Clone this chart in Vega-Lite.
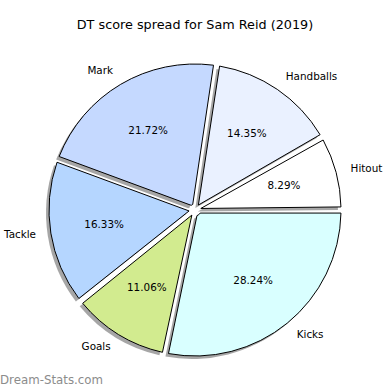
{
  "$schema": "https://vega.github.io/schema/vega-lite/v6.json",
  "width": 390,
  "height": 360,
  "autosize": "none",
  "padding": {"top": 30, "left": 0, "right": 0, "bottom": 0},
  "background": "white",
  "title": {"text": "DT score spread for Sam Reid (2019)", "font": "DejaVu Sans", "fontSize": 12.8, "fontWeight": "normal", "color": "#000000", "offset": -2, "anchor": "middle"},
  "config": {"view": {"stroke": null}},
  "layer": [
    {
      "data": {"values": [
        {"i": 1, "cat": "Hitout", "pct": 8.29},
        {"i": 2, "cat": "Handballs", "pct": 14.35},
        {"i": 3, "cat": "Mark", "pct": 21.72},
        {"i": 4, "cat": "Tackle", "pct": 16.33},
        {"i": 5, "cat": "Goals", "pct": 11.06},
        {"i": 6, "cat": "Kicks", "pct": 28.24}
      ]},
      "transform": [{"calculate": "format(datum.pct, '.2f') + '%'", "as": "lab"}],
      "encoding": {
        "theta": {"field": "pct", "type": "quantitative", "stack": true, "scale": {"range": [1.5707963, -4.712389]}},
        "order": {"field": "i", "type": "quantitative"}
      },
      "layer": [
        {"mark": {"type": "arc", "outerRadius": 146, "innerRadius": 6, "padAngle": 0.042, "xOffset": -3, "yOffset": 3, "fill": "#4d4d4d", "fillOpacity": 0.5}},
        {"mark": {"type": "arc", "outerRadius": 146, "innerRadius": 6, "padAngle": 0.042, "stroke": "#000000", "strokeWidth": 1},
         "encoding": {"fill": {"field": "cat", "type": "nominal", "legend": null,
           "scale": {"domain": ["Hitout", "Handballs", "Mark", "Tackle", "Goals", "Kicks"],
                     "range": ["#ffffff", "#eaf1ff", "#c5d9ff", "#b5d6ff", "#d2eb8f", "#d9ffff"]}}}},
        {"mark": {"type": "text", "radius": 92, "font": "DejaVu Sans", "fontSize": 10.4, "color": "#000000", "baseline": "middle", "align": "center"},
         "encoding": {"text": {"field": "lab", "type": "nominal"}}},
        {"mark": {"type": "text", "radius": 161, "font": "DejaVu Sans", "fontSize": 10.4, "color": "#000000", "baseline": "middle", "align": "left"},
         "encoding": {"text": {"condition": {"test": "indexof(['Hitout','Handballs','Kicks'], datum.cat) >= 0", "field": "cat"}, "value": ""}}},
        {"mark": {"type": "text", "radius": 161, "font": "DejaVu Sans", "fontSize": 10.4, "color": "#000000", "baseline": "middle", "align": "right"},
         "encoding": {"text": {"condition": {"test": "indexof(['Mark','Tackle','Goals'], datum.cat) >= 0", "field": "cat"}, "value": ""}}}
      ]
    },
    {
      "data": {"values": [{"t": "Dream-Stats.com"}]},
      "mark": {"type": "text", "x": 0, "y": 350, "align": "left", "baseline": "middle", "font": "DejaVu Sans", "fontSize": 11.8, "color": "#8c8c8c"},
      "encoding": {"text": {"field": "t", "type": "nominal"}}
    }
  ]
}
